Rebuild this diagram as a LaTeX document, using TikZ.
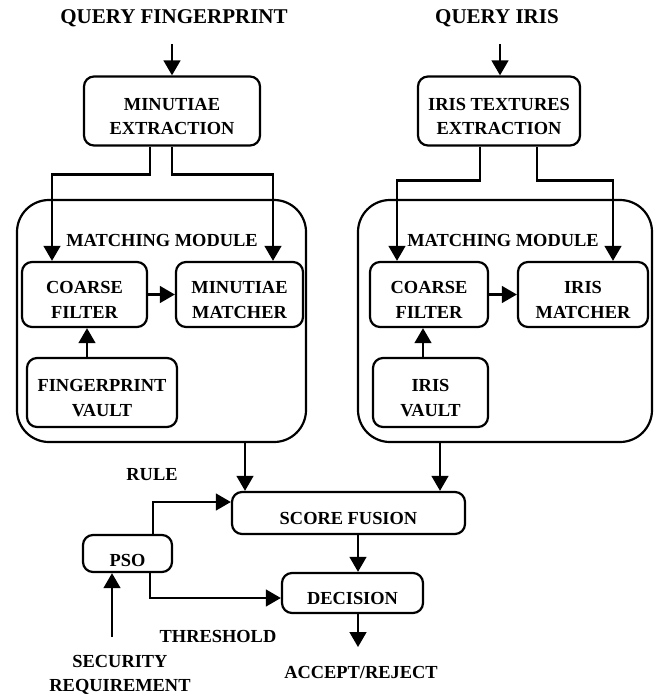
\documentclass[tikz,border=0pt]{standalone}
\usepackage{fontspec}
\setmainfont{Liberation Serif}
\usetikzlibrary{arrows.meta,calc}
\begin{document}
\begin{tikzpicture}[x=1pt,y=-1pt,
  box/.style={draw, line width=2.2pt, rounded corners=10pt, inner sep=0pt},
  outer/.style={draw, line width=2.2pt, rounded corners=32pt, inner sep=0pt},
  txt/.style={font=\fontsize{18.4}{24.5}\selectfont\bfseries, align=center, inner sep=0pt},
  ttl/.style={font=\fontsize{21}{25}\selectfont\bfseries, inner sep=0pt},
  arr/.style={line width=2.8pt, -{Triangle[length=15pt,width=16.5pt]}}]
\useasboundingbox (0,0) rectangle (657,698);

% titles
\node[ttl] (qf) at (174,18) {QUERY FINGERPRINT};
\node[ttl] (qi) at (497,18) {QUERY IRIS};
\coordinate (qfa) at (172,44);
\coordinate (qia) at (500,44);

% outer modules
\node[outer, minimum width=289pt, minimum height=242pt] (mm1) at (161.5,321) {};
\node[outer, minimum width=294pt, minimum height=242pt] (mm2) at (505,321) {};
\node[txt] (mml1) at (162,240) {MATCHING MODULE};
\node[txt] (mml2) at (503,240) {MATCHING MODULE};

% extraction boxes
\node[box, minimum width=176pt, minimum height=69pt] (me) at (172,111) {};
\node[txt] (met) at (172,116.5) {MINUTIAE\\EXTRACTION};
\node[box, minimum width=162pt, minimum height=69pt] (ie) at (499,111) {};
\node[txt] (iet) at (499,116.5) {IRIS TEXTURES\\EXTRACTION};

% left module
\node[box, minimum width=125pt, minimum height=65pt] (cf1) at (84.5,294.5) {};
\node[txt] (cf1t) at (84.5,300) {COARSE\\FILTER};
\node[box, minimum width=127pt, minimum height=65pt] (mt1) at (239.5,294.5) {};
\node[txt] (mt1t) at (239.5,300) {MINUTIAE\\MATCHER};
\node[box, minimum width=150pt, minimum height=69pt] (fv1) at (102,392.5) {};
\node[txt] (fv1t) at (102,398) {FINGERPRINT\\VAULT};

% right module
\node[box, minimum width=118pt, minimum height=65pt] (cf2) at (429,294.5) {};
\node[txt] (cf2t) at (429,300) {COARSE\\FILTER};
\node[box, minimum width=130pt, minimum height=65pt] (mt2) at (583,294.5) {};
\node[txt] (mt2t) at (583,300) {IRIS\\MATCHER};
\node[box, minimum width=115pt, minimum height=69pt] (iv2) at (430.5,392.5) {};
\node[txt] (iv2t) at (430.5,398) {IRIS\\VAULT};

% bottom
\node[box, minimum width=233pt, minimum height=42pt] (sf) at (348.5,513) {};
\node[txt] (sft) at (348.5,518) {SCORE FUSION};
\node[box, minimum width=89pt, minimum height=37pt] (pso) at (127.5,553.5) {};
\node[txt] (psot) at (127.5,560) {PSO};
\node[box, minimum width=141pt, minimum height=40pt] (dec) at (352.5,593) {};
\node[txt] (dect) at (352.5,598) {DECISION};

\node[txt] (rule) at (152,475) {RULE};
\node[txt] (thr) at (218,636) {THRESHOLD};
\node[txt] (sec) at (120,675) {SECURITY\\REQUIREMENT};
\node[txt] (acc) at (361,672) {ACCEPT/REJECT};
\coordinate (sr) at (112,637);

% connectors
\draw[arr] (qfa) -- (me.north);
\draw[arr] (qia) -- ([xshift=1pt]ie.north);
\draw[arr] ([xshift=-22pt]me.south) -- ++(0,28) -| ([xshift=-32.5pt]cf1.north);
\draw[arr] (me.south) -- ++(0,28) -| ([xshift=33.5pt]mt1.north);
\draw[arr] ([xshift=-19pt]ie.south) -- ++(0,34) -| ([xshift=-32pt]cf2.north);
\draw[arr] ([xshift=38pt]ie.south) -- ++(0,34) -| ([xshift=30pt]mt2.north);
\draw[arr] (cf1.east) -- (mt1.west);
\draw[arr] (cf2.east) -- (mt2.west);
\draw[arr] ([xshift=-15pt]fv1.north) -- ([xshift=2.5pt]cf1.south);
\draw[arr] ([xshift=-7.5pt]iv2.north) -- ([xshift=-6pt]cf2.south);
\draw[arr] ([xshift=83.5pt]mm1.south) -- ([xshift=-103.5pt]sf.north);
\draw[arr] ([xshift=-65pt]mm2.south) -- ([xshift=91.5pt]sf.north);
\draw[arr] ([xshift=25.5pt]pso.north) |- ([yshift=11pt]sf.west);
\draw[arr] ([xshift=22.5pt]pso.south) |- ([yshift=-5pt]dec.west);
\draw[arr] ([xshift=9.5pt]sf.south) -- ([xshift=5.5pt]dec.north);
\draw[arr] ([xshift=5.5pt]dec.south) -- ++(0,33);
\draw[arr] (sr) -- ([xshift=-15.5pt]pso.south);
\end{tikzpicture}
\end{document}
